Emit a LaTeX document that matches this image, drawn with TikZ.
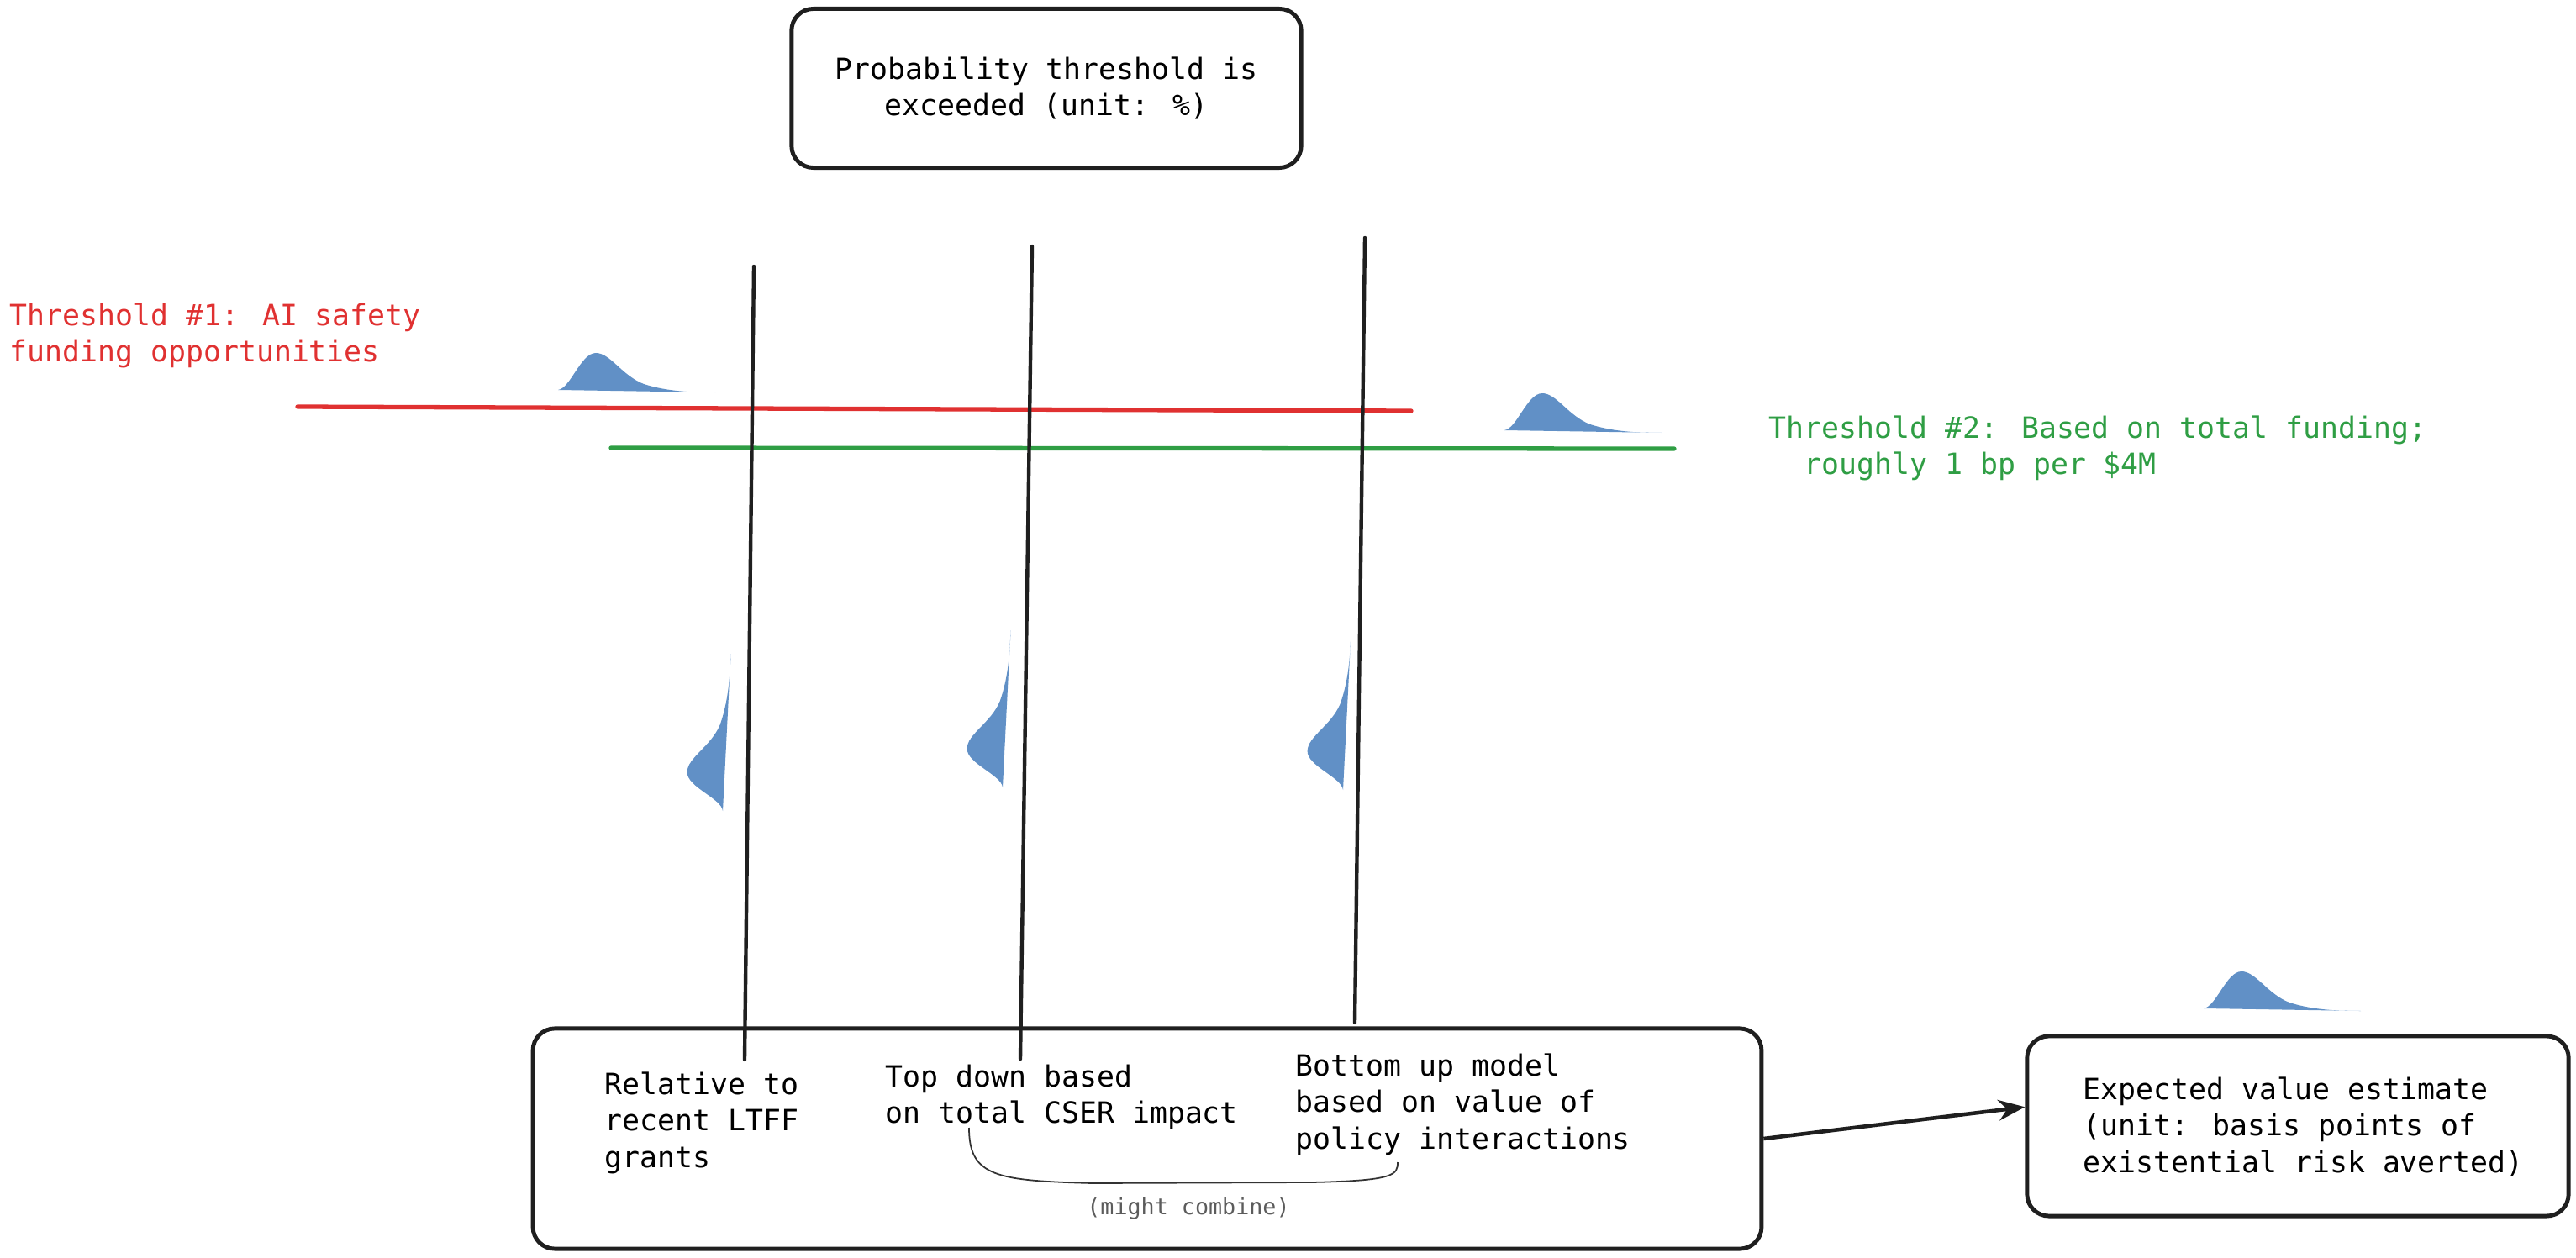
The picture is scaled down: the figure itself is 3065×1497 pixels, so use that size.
\documentclass[tikz,border=0pt]{standalone}
\usepackage{fontspec}
\setmainfont{DejaVu Sans Mono}
\usetikzlibrary{arrows.meta}
\definecolor{thrred}{HTML}{E03131}
\definecolor{thrgreen}{HTML}{2F9E44}
\definecolor{distblue}{HTML}{6190C6}
\definecolor{notegray}{HTML}{5C5C5C}
\tikzset{
  box/.style={draw=black!88, line width=1.4pt, rounded corners=0.26cm},
  txt/.style={font=\fontsize{9.9}{12.4}\selectfont, align=left, inner sep=0pt, anchor=north west},
  stem/.style={draw=black!88, line width=1.25pt, line cap=round},
  distr/.pic={\fill[distblue] (0,0) .. controls (15,-2) and (27,-44) .. (45,-44) .. controls (62,-44) and (76,-17) .. (102,-7) .. controls (130,2) and (160,3) .. (187,3) -- cycle;},
}
\begin{document}
\begin{tikzpicture}[x=0.01cm, y=-0.01cm]
	\useasboundingbox (0,0) rectangle (3065,1497);

	\node[box, minimum width=6.06cm, minimum height=1.89cm, align=center, font=\fontsize{9.9}{12.4}\selectfont] (prob) at (1245,105) {Probability threshold is~\\exceeded (unit: \%)};

	\node[txt, text=thrred] (throne) at (11,360) {Threshold \#1: AI safety\\funding opportunities};
	\node[txt, text=thrgreen] (thrtwo) at (2104,494) {Threshold \#2: Based on total funding;\\\hphantom{xx}roughly 1 bp per \$4M};

	\coordinate (r1) at (354,484);
	\coordinate (r2) at (1679,489);
	\coordinate (g1) at (727,533);
	\coordinate (g2) at (1992,534);
	\draw[thrred, line width=1.5pt, line cap=round] (r1) -- (r2);
	\draw[thrgreen, line width=1.5pt, line cap=round] (g1) -- (g2);

	\pic at (664,464) {distr};
	\pic at (1790,512) {distr};
	\pic at (2622,1200) {distr};
	\pic[rotate=88] at (860,965) {distr};
	\pic[rotate=88] at (1193,937) {distr};
	\pic[rotate=88] at (1598,940) {distr};

	\node[box, minimum width=14.61cm, minimum height=2.62cm] (sources) at (1365,1355) {};
	\node[box, minimum width=6.44cm, minimum height=2.14cm] (ev) at (2734,1340) {};

	\coordinate (ltfftop) at (897,317);
	\coordinate (ltffbot) at (886,1261);
	\coordinate (csertop) at (1228,293);
	\coordinate (cserbot) at (1214,1260);
	\coordinate (policytop) at (1624,283);
	\coordinate (policybot) at (1612,1217);
	\draw[stem] (ltfftop) -- (ltffbot);
	\draw[stem] (csertop) -- (cserbot);
	\draw[stem] (policytop) -- (policybot);

	\node[txt] (ltff) at (719,1275) {Relative to\\recent LTFF\\grants};
	\node[txt] (topdown) at (1053,1266) {Top down based\\on total CSER impact};
	\node[txt] (bottomup) at (1541,1253) {Bottom up model\\based on value of\\policy interactions};
	\node[txt, align=left] (evtext) at (2478,1281) {Expected value estimate\\(unit: basis points of\\existential risk averted)};

	\coordinate (bl) at (1153,1342);
	\coordinate (br) at (1663,1383);
	\draw[black!80, line width=0.5pt] (bl) .. controls (1153,1400) and (1185,1405) .. (1300,1408) -- (1560,1407) .. controls (1660,1405) and (1663,1398) .. (br);
	\node[font=\fontsize{7.6}{9}\selectfont, text=notegray, anchor=base, inner sep=0pt] (combine) at (1414,1445) {(might combine)};

	\draw[black!88, line width=1.3pt, -{Stealth[length=9pt, width=7pt]}] (sources.east) -- (ev.176);
\end{tikzpicture}
\end{document}
